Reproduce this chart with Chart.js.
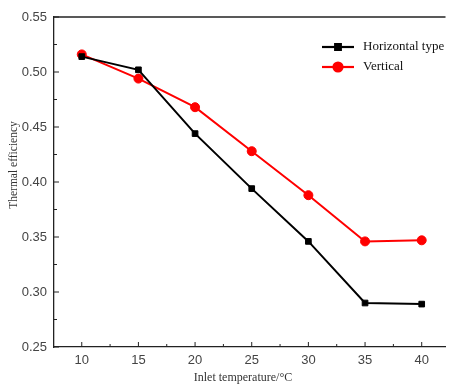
<!DOCTYPE html>
<html>
<head>
<meta charset="utf-8">
<script src="https://cdn.jsdelivr.net/npm/chart.js@4.4.0/dist/chart.umd.min.js"></script>
<style>
  html, body { margin: 0; padding: 0; background: #fff; overflow: hidden; }
  #wrap { width: 451px; height: 385px; }
</style>
</head>
<body>
<div id="wrap"><canvas id="chart" width="451" height="385"></canvas></div>
<script>
// data
const temps = [10, 15, 20, 25, 30, 35, 40];
const horizontal = [0.514, 0.502, 0.444, 0.394, 0.346, 0.290, 0.289];
const vertical = [0.516, 0.494, 0.468, 0.428, 0.388, 0.346, 0.347];
const yTicks = [0.25, 0.30, 0.35, 0.40, 0.45, 0.50, 0.55];
const xTitle = "Inlet temperature/°C";
const yTitle = "Thermal efficiency";

const serif = "'Liberation Serif', 'Times New Roman', serif";
const sans = "'Liberation Sans', Arial, sans-serif";

// inward ticks, top frame line, axis titles and legend
const framePlugin = {
    id: "frame",
    afterDraw(chart) {
        const c = chart.ctx;
        const a = chart.chartArea;
        const xs = chart.scales.x, ys = chart.scales.y;
        c.save();
        c.strokeStyle = "#222";
        c.lineWidth = 1.3;
        // top line
        c.beginPath();
        c.moveTo(a.left, a.top);
        c.lineTo(a.right, a.top);
        c.stroke();
        // x ticks
        c.lineWidth = 1;
        temps.forEach(t => {
            const px = xs.getPixelForValue(t);
            c.beginPath(); c.moveTo(px, a.bottom); c.lineTo(px, a.bottom - 5); c.stroke();
            const mx = xs.getPixelForValue(t + 2.5);
            if (mx < a.right) {
                c.beginPath(); c.moveTo(mx, a.bottom); c.lineTo(mx, a.bottom - 3); c.stroke();
            }
        });
        // y ticks
        yTicks.forEach(v => {
            const py = ys.getPixelForValue(v);
            c.beginPath(); c.moveTo(a.left, py); c.lineTo(a.left + 5, py); c.stroke();
            if (v < 0.55) {
                const my = ys.getPixelForValue(v + 0.025);
                c.beginPath(); c.moveTo(a.left, my); c.lineTo(a.left + 3, my); c.stroke();
            }
        });
        // axis titles
        c.fillStyle = "#333";
        c.textAlign = "center";
        c.textBaseline = "middle";
        c.font = "12px " + serif;
        c.fillText(xTitle, 243, 378);
        c.save();
        c.translate(14, 165);
        c.rotate(-Math.PI / 2);
        c.font = "11.5px " + serif;
        c.fillText(yTitle, 0, 0);
        c.restore();
        // legend
        const lx = 322, ly = 47, gap = 20;
        chart.data.datasets.forEach((ds, i) => {
            const y = ly + i * gap;
            c.strokeStyle = ds.borderColor;
            c.lineWidth = 2.2;
            c.beginPath(); c.moveTo(lx, y); c.lineTo(lx + 32, y); c.stroke();
            c.fillStyle = ds.backgroundColor;
            Chart.helpers.drawPoint(c, {
                pointStyle: ds.pointStyle, radius: ds.pointRadius, borderWidth: 1
            }, lx + 16, y);
            c.fillStyle = "#111";
            c.font = "13px " + serif;
            c.textBaseline = "middle";
            c.textAlign = "left";
            c.fillText(ds.label, lx + 41, y);
        });
        c.restore();
    }
};

const ctx = document.getElementById("chart").getContext("2d");
const chart = new Chart(ctx, {
    type: "line",
    data: {
        datasets: [
            {
                label: "Horizontal type",
                data: temps.map((t, i) => ({ x: t, y: horizontal[i] })),
                borderColor: "#000",
                backgroundColor: "#000",
                borderWidth: 2,
                pointStyle: "rect",
                pointRadius: 4,
                pointBorderWidth: 1,
                tension: 0,
            },
            {
                label: "Vertical",
                data: temps.map((t, i) => ({ x: t, y: vertical[i] })),
                borderColor: "#ff0000",
                backgroundColor: "#ff0000",
                borderWidth: 2,
                pointStyle: "circle",
                pointRadius: 4.5,
                pointBorderWidth: 1,
                tension: 0,
            },
        ],
    },
    options: {
        responsive: false,
        animation: false,
        layout: { padding: { top: 17, right: 0, left: 0, bottom: 0 } },
        plugins: { legend: { display: false }, tooltip: { enabled: false } },
        scales: {
            x: {
                type: "linear",
                min: 7.55,
                max: 42.1,
                afterBuildTicks: s => { s.ticks = temps.map(v => ({ value: v })); },
                afterFit: s => { s.height = 38; },
                grid: { display: false, drawTicks: false, tickLength: 0 },
                border: { display: true, color: "#222", width: 1.3 },
                ticks: { color: "#444", font: { family: sans, size: 13 }, padding: 6 },
            },
            y: {
                min: 0.25,
                max: 0.55,
                afterBuildTicks: s => { s.ticks = yTicks.map(v => ({ value: v })); },
                afterFit: s => { s.width = 54; },
                grid: { display: false, drawTicks: false, tickLength: 0 },
                border: { display: true, color: "#222", width: 1.3 },
                ticks: {
                    color: "#444", font: { family: sans, size: 13 }, padding: 7,
                    callback: v => v.toFixed(2)
                },
            },
        },
    },
    plugins: [framePlugin],
});
</script>
</body>
</html>
